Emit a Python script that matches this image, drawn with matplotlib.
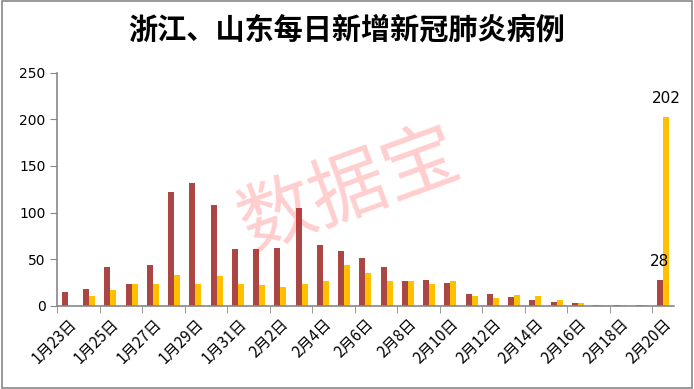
import matplotlib.pyplot as plt
import numpy as np
from matplotlib.patches import Rectangle

plt.rcParams['font.family'] = ['Noto Sans CJK SC', 'DejaVu Sans']

dates = ['1月23日', '1月24日', '1月25日', '1月26日', '1月27日', '1月28日', '1月29日',
         '1月30日', '1月31日'] + ['2月%d日' % d for d in range(1, 21)]
zhejiang = [15, 18, 42, 24, 44, 122, 132, 108, 61,
            61, 62, 105, 65, 59, 51, 42, 27, 28, 25,
            13, 13, 10, 6, 4, 3, 1, 1, 1, 28]
shandong = [0, 11, 17, 24, 24, 33, 24, 32, 24,
            22, 20, 24, 27, 44, 35, 27, 27, 24, 27,
            11, 9, 12, 11, 6, 3, 1, 1, 1, 202]
yticks = [0, 50, 100, 150, 200, 250]

red = '#AA4643'
gold = '#FFC000'
grey = '#888888'

fig = plt.figure(figsize=(6.94, 3.89), dpi=100)
ax = fig.add_axes([0.0825, 0.2134, 0.888, 0.6])

x = np.arange(len(dates))
w = 0.28
ax.bar(x - w / 2, zhejiang, w, color=red)
ax.bar(x + w / 2, shandong, w, color=gold)

# value labels on the last day only
ax.text(x[-1] - w / 2, zhejiang[-1] + 12, str(zhejiang[-1]), ha='center', va='bottom',
        fontsize=11, family='DejaVu Sans')
ax.text(x[-1] + w / 2, shandong[-1] + 12, str(shandong[-1]), ha='center', va='bottom',
        fontsize=11, family='DejaVu Sans')

ax.set_xlim(-0.5, len(dates) - 0.5)
ax.set_ylim(0, 250)
ax.set_yticks(yticks)
ax.set_yticklabels([str(v) for v in yticks], fontsize=10, family='DejaVu Sans')

ax.set_xticks(x[::2])
ax.set_xticklabels(dates[::2], rotation=45, ha='right', rotation_mode='anchor', fontsize=11)
ax.set_xticks(np.arange(-0.5, len(dates), 2), minor=True)
ax.tick_params(axis='x', which='major', length=0, pad=7)
ax.tick_params(axis='x', which='minor', length=5, color=grey, direction='out')
ax.tick_params(axis='y', length=5, color=grey, direction='out')

for s in ['top', 'right']:
    ax.spines[s].set_visible(False)
for s in ['left', 'bottom']:
    ax.spines[s].set_color(grey)
    ax.spines[s].set_linewidth(1.2)

fig.text(0.5, 0.923, '浙江、山东每日新增新冠肺炎病例', ha='center', va='center',
         fontsize=21, fontweight='bold')

# watermark
fig.text(0.505, 0.51, '数据宝', ha='center', va='center', fontsize=55, rotation=20,
         color='#FF2020', alpha=0.22, zorder=10)

fig.patches.append(Rectangle((0.003, 0.003), 0.994, 0.994, transform=fig.transFigure,
                             fill=False, edgecolor=grey, linewidth=1.2))

fig.savefig('out.png', dpi=100)
